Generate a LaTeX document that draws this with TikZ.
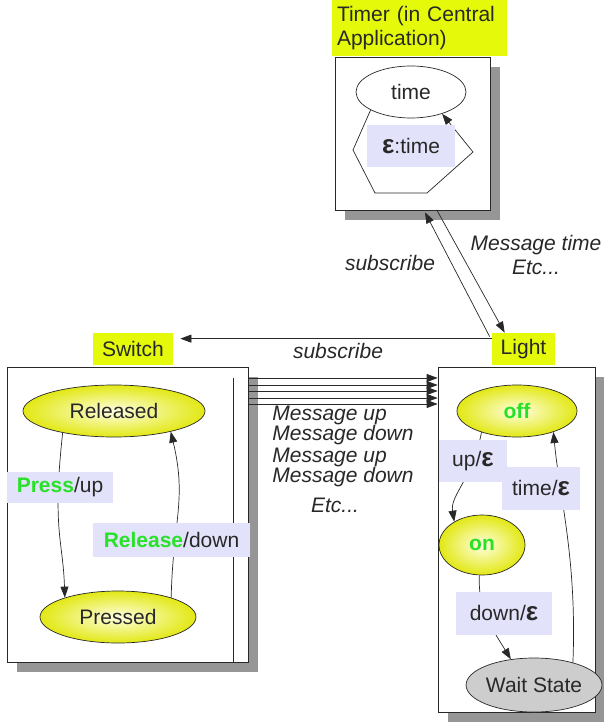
\documentclass[tikz,border=0pt]{standalone}
\usepackage{fontspec}
\setmainfont{Liberation Sans}
\usepackage{xcolor}
\usepackage{tikz}
\usetikzlibrary{arrows.meta}
\usetikzlibrary{shapes.geometric}
\usetikzlibrary{shadows}
\definecolor{ttlyel}{RGB}{228,250,10}
\definecolor{lav}{RGB}{226,226,250}
\definecolor{grn}{RGB}{40,225,40}
\definecolor{stateyel}{RGB}{226,232,20}
\definecolor{ink}{RGB}{40,40,40}
\definecolor{waitgray}{RGB}{205,205,205}
\definecolor{shd}{RGB}{150,150,150}
\newcommand{\eps}{{\fontsize{26}{26}\selectfont\bfseries ε}}

\begin{document}
\begin{tikzpicture}[x=1pt, y=-1pt, line width=0.7pt,
    every node/.style={font=\fontsize{21}{24}\selectfont, text=ink},
    title/.style={fill=ttlyel, inner sep=0pt},
    frame/.style={draw=ink, fill=white, drop shadow={shadow xshift=10pt, shadow yshift=-10pt, fill=shd, opacity=1}},
    state/.style={ellipse, draw=ink, shading=radial, inner color=yellow!12, outer color=stateyel, inner sep=0pt},
    trans/.style={fill=lav, inner sep=0pt},
    msg/.style={font=\fontsize{21}{24}\selectfont\itshape, inner sep=1pt},
    arr/.style={draw=ink, -{Triangle[length=11pt, width=8pt]}}]
        \useasboundingbox (0,0) rectangle (603,727);

        \node[title, text width=165, inner xsep=5pt, minimum height=57, align=left] (tmtitle) at (419.5,28) {Timer (in Central\\Application)};
        \node[frame, minimum width=155, minimum height=153] (tmbox) at (412.5,133.5) {};
        \node[ellipse, draw=ink, fill=white, minimum width=110, minimum height=52, inner sep=0pt] (time) at (411,92) {time};
        \draw[arr] (time.204) -- (353,150) -- (375,193) -- (427,193) -- (473,152) -- (time.325);
        \node[trans, minimum width=88, minimum height=42] (tick) at (411,146) {\eps:time};

        \node[title, minimum width=80, minimum height=32] (swtitle) at (133,349) {Switch};
        \node[frame, minimum width=241, minimum height=295] (swbox) at (127.5,514.5) {};
        \draw[ink, line width=0.5pt] (233,378) -- (233,662);
        \node[state, minimum width=182, minimum height=52] (rel) at (114,411) {Released};
        \node[state, minimum width=156, minimum height=52] (pre) at (118,617) {Pressed};
        \draw[arr] (rel.203) .. controls (52,530) and (63,540) .. (pre.160);
        \draw[arr] (pre.20) .. controls (173,520) and (187,500) .. (rel.340);
        \node[trans, minimum width=106, minimum height=31] (press) at (60,487.5) {\textcolor{grn}{\bfseries Press}/up};
        \node[trans, minimum width=157, minimum height=34] (release) at (171.5,540) {\textcolor{grn}{\bfseries Release}/down};

        \node[title, minimum width=63, minimum height=32] (lttitle) at (523.5,349) {Light};
        \node[frame, minimum width=157, minimum height=345] (ltbox) at (516.5,539.5) {};
        \node[state, minimum width=120, minimum height=52] (off) at (517,411) {\textcolor{grn}{\bfseries off}};
        \node[state, minimum width=86, minimum height=60] (on) at (482,545) {\textcolor{grn}{\bfseries on}};
        \node[ellipse, draw=ink, fill=waitgray, minimum width=121, minimum height=54, inner sep=0pt] (wait) at (534,685) {Wait State};
        \draw[arr] (off.211) .. controls (472,480) and (450,495) .. (on.140);
        \draw[arr] (on.265) .. controls (478,610) and (490,625) .. (wait.132);
        \draw[arr] (wait.30) .. controls (577,560) and (560,500) .. (off.330);
        \node[trans, minimum width=68, minimum height=42] (upeps) at (473,461) {up/\eps};
        \node[trans, minimum width=78, minimum height=43] (timeeps) at (541,488.5) {time/\eps};
        \node[trans, minimum width=96, minimum height=43] (downeps) at (504,613.5) {down/\eps};

        \foreach \i/\y in {1/378,2/385,3/391,4/398,5/404} {
            \coordinate (m\i) at (0,\y);
            \draw[arr] (swbox.east |- m\i) -- (ltbox.west |- m\i);
        }
        \node[msg, anchor=west] (msg1) at (271,415) {Message up};
        \node[msg, anchor=west] (msg2) at (271,435) {Message down};
        \node[msg, anchor=west] (msg3) at (271,457) {Message up};
        \node[msg, anchor=west] (msg4) at (271,477) {Message down};
        \node[msg] (msg5) at (335,505) {Etc...};

        \draw[arr] ([yshift=-6pt]lttitle.north west) -- ([xshift=7pt, yshift=-6pt]swtitle.north east);
        \node[msg] (sub1) at (338,351) {subscribe};

        \draw[arr] ([xshift=-2pt, yshift=-4pt]lttitle.north west) -- ([xshift=12.5pt, yshift=-2pt]tmbox.south);
        \draw[arr] ([xshift=24.5pt]tmbox.south) -- ([xshift=13pt]lttitle.north west);
        \node[msg] (sub2) at (390,263) {subscribe};
        \node[msg, align=center] (msgtime) at (536,255) {Message time\\Etc...};
    \end{tikzpicture}
\end{document}
